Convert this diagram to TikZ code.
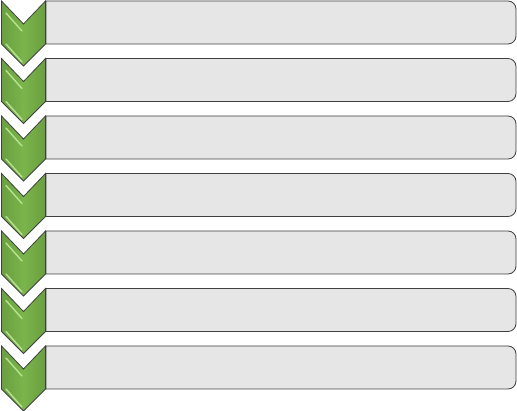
\documentclass[tikz,border=0pt]{standalone}
\usetikzlibrary{calc}
\definecolor{gfill}{HTML}{7AB54B}
\definecolor{gdark}{HTML}{6A9F40}
\definecolor{glight}{HTML}{B8E391}
\definecolor{bfill}{HTML}{E6E6E6}
\definecolor{edge}{HTML}{404040}
\tikzset{
  barbox/.style={fill=bfill,draw=edge,line width=0.8pt},
  chev/.style={draw=edge,line width=0.8pt,left color=gdark,right color=gdark,middle color=gfill},
  shine/.style={draw=glight,line width=1.4pt,line cap=round}
}
\begin{document}
\begin{tikzpicture}[x=1pt,y=-1pt]
\useasboundingbox (0,0) rectangle (517,411);
\foreach \i in {0,...,6}{
  \pgfmathsetmacro{\t}{1+57.5*\i}
  \draw[barbox] (46,\t) -- (508,\t) arc[start angle=-90,end angle=0,radius=8] -- (516,\t+35) arc[start angle=0,end angle=90,radius=8] -- (46,\t+43) -- cycle;
}
\foreach \i in {0,...,6}{
  \pgfmathsetmacro{\t}{1+57.5*\i}
  \path[chev] (1.5,\t) -- (23.5,\t+23) -- (45.5,\t) -- (45.5,\t+43) -- (23.5,\t+65) -- (1.5,\t+43) -- cycle;
  \draw[shine] (6,\t+12) -- (22,\t+30);
  \draw[shine] (6,\t+43) -- (22,\t+61);
}
\end{tikzpicture}
\end{document}
